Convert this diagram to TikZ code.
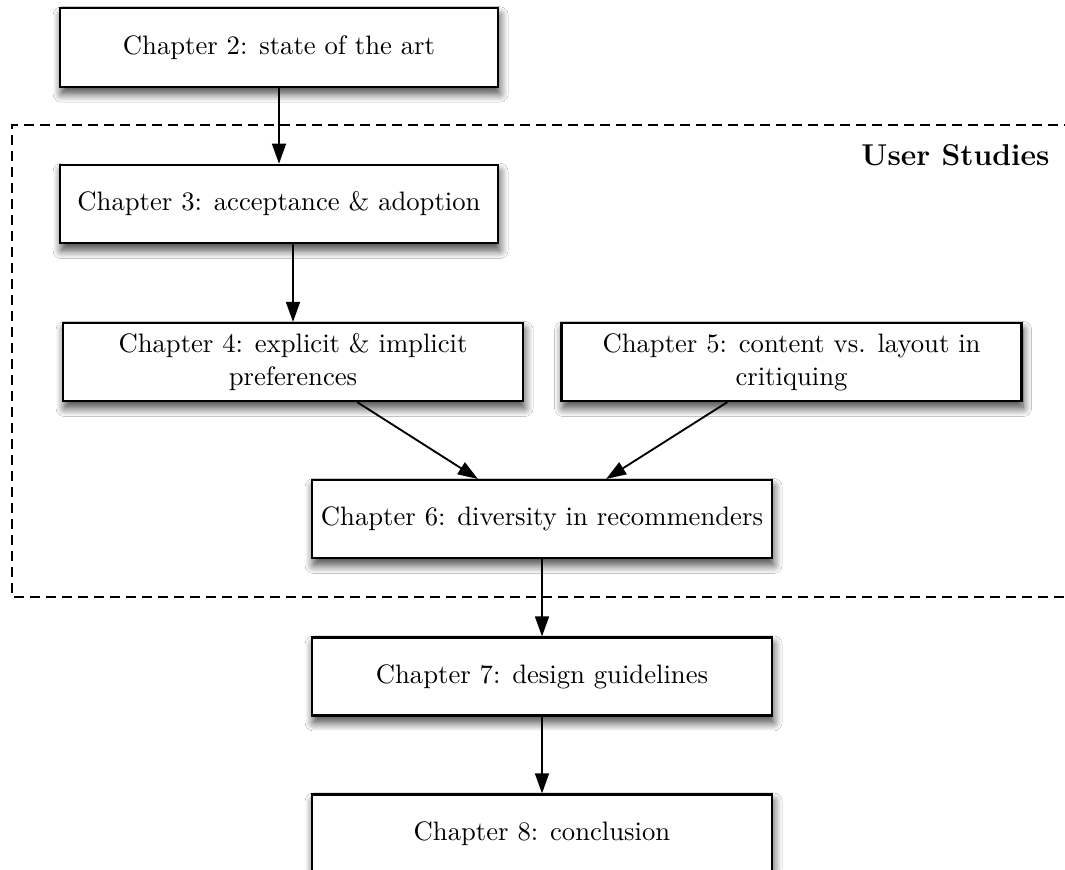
\documentclass[tikz,border=0pt]{standalone}
\usetikzlibrary{arrows.meta,shadows.blur,calc}
\begin{document}
\begin{tikzpicture}[x=0.375pt,y=-0.375pt,
  box/.style={draw, line width=0.8pt, fill=white, rectangle, inner sep=0pt,
    align=center, font=\fontsize{10}{12.5}\selectfont,
    blur shadow={shadow xshift=0.6pt, shadow yshift=-2.6pt, shadow blur radius=3.2pt, shadow blur steps=12, shadow opacity=75}},
  wide/.style={minimum width=172.5pt, minimum height=29.25pt},
  narrow/.style={minimum width=164.25pt, minimum height=29.4pt},
  arr/.style={line width=0.7pt, -{Triangle[length=7.5pt,width=5.2pt]}},
  region/.style={draw, line width=0.8pt, dash pattern=on 3.6pt off 2.4pt},
  title/.style={font=\fontsize{11.3}{13}\selectfont\bfseries, inner sep=0pt, anchor=base east}]
\clip (0,0) rectangle (1065,869);
\fill[white] (0,0) rectangle (1065,869);
% region
\draw[region] (1090,125) -- (12,125) -- (12,597) -- (1090,597);
\node[title] (us) at (1050,165) {User Studies};
% boxes
\node[box, narrow] (c2) at (279,47.5) {Chapter 2: state of the art};
\node[box, narrow] (c3) at (279,204) {Chapter 3: acceptance \& adoption};
\node[box, wide] (c4) at (293,362) {Chapter 4: explicit \& implicit\\preferences};
\node[box, wide] (c5) at (791.5,362) {Chapter 5: content vs. layout in\\critiquing};
\node[box, wide] (c6) at (542,519) {Chapter 6: diversity in recommenders};
\node[box, wide] (c7) at (542,676.5) {Chapter 7: design guidelines};
\node[box, wide] (c8) at (542,833.5) {Chapter 8: conclusion};
% connectors
\draw[arr] (c2.south) -- (c3.north);
\draw[arr] (c3.south -| c4.north) -- (c4.north);
\draw[arr] (c4.-32) -- (c6.148);
\draw[arr] (c5.-148) -- (c6.32);
\draw[arr] (c6.south) -- (c7.north);
\draw[arr] (c7.south) -- (c8.north);
\end{tikzpicture}
\end{document}
